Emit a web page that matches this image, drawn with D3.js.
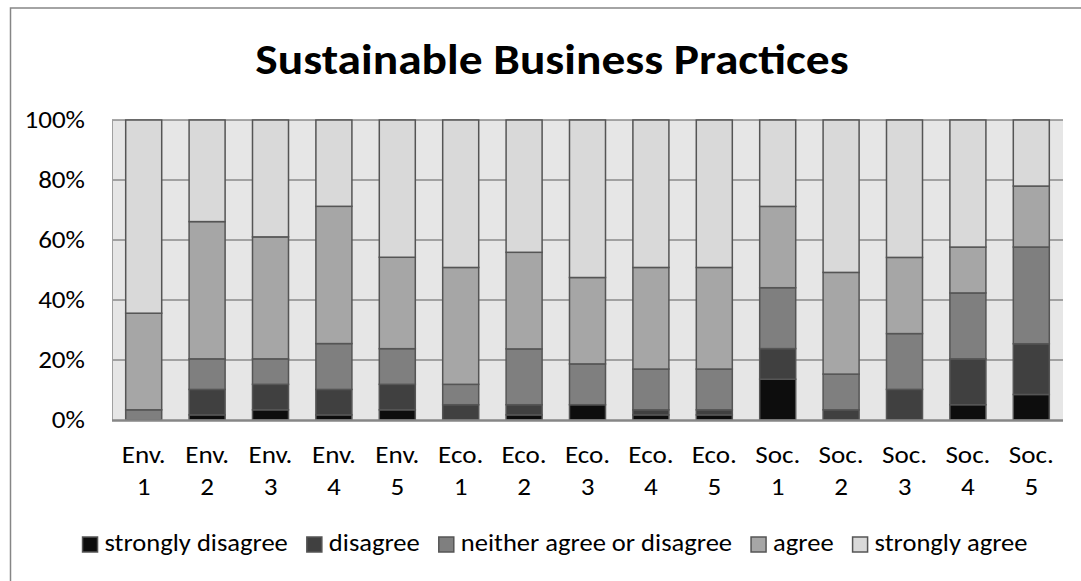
<!DOCTYPE html>
<html>
<head>
<meta charset="utf-8">
<script src="https://cdn.jsdelivr.net/npm/d3@7"></script>
<style>
  html, body { margin: 0; padding: 0; background: #ffffff; }
  svg { display: block; }
  text { font-family: Carlito, Lato, "Open Sans", sans-serif; fill: #000; }
</style>
</head>
<body>
<svg id="chart" width="1081" height="581"></svg>
<script>
// ---- data (percent of responses) ----
const title = "Sustainable Business Practices";
const categories = ["Env. 1","Env. 2","Env. 3","Env. 4","Env. 5",
                    "Eco. 1","Eco. 2","Eco. 3","Eco. 4","Eco. 5",
                    "Soc. 1","Soc. 2","Soc. 3","Soc. 4","Soc. 5"];
const seriesNames = ["strongly disagree","disagree","neither agree or disagree","agree","strongly agree"];
const stronglyDisagree = [0.0, 1.7, 3.4, 1.7, 3.4, 0.0, 1.7, 5.1, 1.7, 1.7, 13.6, 0.0, 0.0, 5.1, 8.5];
const disagree         = [0.0, 8.5, 8.5, 8.5, 8.5, 5.1, 3.4, 0.0, 1.7, 1.7, 10.2, 3.4, 10.2, 15.3, 16.9];
const neither          = [3.4, 10.2, 8.5, 15.3, 11.9, 6.8, 18.6, 13.6, 13.6, 13.6, 20.3, 11.9, 18.6, 22.0, 32.2];
const agree            = [32.2, 45.8, 40.7, 45.8, 30.5, 39.0, 32.2, 28.8, 33.9, 33.9, 27.1, 33.9, 25.4, 15.3, 20.3];
const stronglyAgree    = [64.4, 33.9, 39.0, 28.8, 45.8, 49.2, 44.1, 52.5, 49.2, 49.2, 28.8, 50.8, 45.8, 42.4, 22.0];
const yTicks = [0, 0.2, 0.4, 0.6, 0.8, 1.0];
const colors = ["#0d0d0d", "#404040", "#7f7f7f", "#a6a6a6", "#d9d9d9"];

// ---- build table ----
const seriesValues = [stronglyDisagree, disagree, neither, agree, stronglyAgree];
const rows = categories.map((c, i) => {
  const r = { category: c };
  seriesNames.forEach((s, k) => { r[s] = seriesValues[k][i]; });
  return r;
});
const stacked = d3.stack().keys(seriesNames).offset(d3.stackOffsetExpand)(rows);

const SX = 1.13; // horizontal stretch of text seen in the reference
const svg = d3.select("#chart");
const plot = { left: 112, right: 1063, top: 120, bottom: 420 };

function stretchedText(parent, x, y, str, size, anchor, weight) {
  return parent.append("text")
    .attr("transform", `translate(${x},${y}) scale(${SX},1)`)
    .attr("text-anchor", anchor || "start")
    .style("font-size", size + "px")
    .style("font-weight", weight || "normal")
    .text(str);
}

// outer chart border
svg.append("rect")
  .attr("x", 10.5).attr("y", 8)
  .attr("width", 1100).attr("height", 620)
  .attr("fill", "none").attr("stroke", "#868686").attr("stroke-width", 1.5);

// title
stretchedText(svg, 552, 74, title, 42, "middle", "bold");

const x = d3.scaleBand().domain(categories)
  .range([plot.left, plot.right]).paddingInner(0.432).paddingOuter(0.216);
const y = d3.scaleLinear().domain([0, 1]).range([plot.bottom, plot.top]);

// plot background
svg.append("rect")
  .attr("x", plot.left).attr("y", plot.top)
  .attr("width", plot.right - plot.left).attr("height", plot.bottom - plot.top)
  .attr("fill", "#e6e6e6");

// gridlines
svg.append("g").selectAll("line").data(yTicks.filter(t => t > 0)).join("line")
  .attr("x1", plot.left).attr("x2", plot.right)
  .attr("y1", d => y(d)).attr("y2", d => y(d))
  .attr("stroke", "#8a8a8a").attr("stroke-width", 1.5);

// left edge of plot
svg.append("line")
  .attr("x1", plot.left + 0.5).attr("x2", plot.left + 0.5)
  .attr("y1", plot.top).attr("y2", plot.bottom)
  .attr("stroke", "#a0a0a0").attr("stroke-width", 1);

// y axis labels
const fmt = d3.format(".0%");
const yG = svg.append("g");
yTicks.forEach(t => stretchedText(yG, 85, y(t) + 8, fmt(t), 24, "end"));

// bars
svg.append("g").selectAll("g").data(stacked).join("g")
  .attr("fill", (d, i) => colors[i])
  .selectAll("rect").data(d => d.filter(p => p[1] - p[0] > 0)).join("rect")
  .attr("x", d => x(d.data.category))
  .attr("width", x.bandwidth())
  .attr("y", d => y(d[1]))
  .attr("height", d => y(d[0]) - y(d[1]))
  .attr("stroke", "#555555").attr("stroke-width", 1.5);

// bottom axis line
svg.append("line")
  .attr("x1", plot.left).attr("x2", plot.right)
  .attr("y1", plot.bottom + 0.5).attr("y2", plot.bottom + 0.5)
  .attr("stroke", "#868686").attr("stroke-width", 2.5);

// category labels (two lines)
const catG = svg.append("g");
categories.forEach(c => {
  const parts = c.split(" ");
  parts.forEach((p, j) => {
    stretchedText(catG, x(c) + x.bandwidth() / 2, 463 + j * 32, p, 24, "middle");
  });
});

// legend
const legend = svg.append("g");
const sq = 15, gapSqText = 7, gapItem = 19;
const items = seriesNames.map((s, i) => {
  const g = legend.append("g");
  const r = g.append("rect").attr("width", sq).attr("height", sq)
    .attr("y", 537).attr("fill", colors[i]).attr("stroke", "#555555").attr("stroke-width", 1.5);
  const t = stretchedText(g, 0, 551, s, 23.5, "start");
  return { r, t, s, w: t.node().getComputedTextLength() * SX };
});
const total = d3.sum(items, d => sq + gapSqText + d.w) + gapItem * (items.length - 1);
let cx = 555 - total / 2;
items.forEach(it => {
  it.r.attr("x", cx);
  it.t.attr("transform", `translate(${cx + sq + gapSqText},551) scale(${SX},1)`);
  cx += sq + gapSqText + it.w + gapItem;
});
</script>
</body>
</html>
